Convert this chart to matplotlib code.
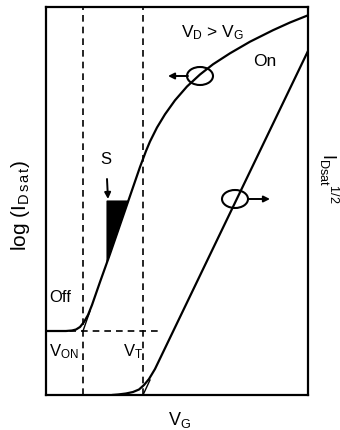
import matplotlib
matplotlib.use("Agg")
import matplotlib.pyplot as plt
from matplotlib.patches import Ellipse, Polygon

plt.rcParams['font.family'] = ['Liberation Sans', 'DejaVu Sans']
plt.rcParams['mathtext.fontset'] = 'custom'
plt.rcParams['mathtext.rm'] = 'Liberation Sans'
plt.rcParams['mathtext.it'] = 'Liberation Sans:italic'

# Schematic transfer curve, arbitrary units (V_G on x, current on y)
log_vg = [0, 20, 26, 30, 34, 38, 42, 46, 54, 64, 74, 84, 94, 97, 100, 104,
          111, 119, 129, 141, 154, 167, 184, 204, 227, 244, 262]
log_id = [64, 64, 64.5, 65.5, 68, 73, 80, 90, 113, 141, 170, 199, 228, 236,
          244, 253.5, 267.5, 280.7, 294.7, 308.5, 320.5, 330.7, 341.7, 353.3,
          364.8, 372.5, 379.7]

sqrt_vg = [66, 72, 80, 87, 93, 98, 103, 109, 262]
sqrt_id = [0, 0.5, 1.5, 3, 5.5, 10, 16, 26, 344]

v_on = 37
v_t = 97
i_off = 64

# extrapolated straight segments at the two onsets
on_tangent_vg = [37, 44]
on_tangent_id = [64, 84]
t_tangent_vg = [97, 104]
t_tangent_id = [0, 15]

# subthreshold-swing triangle
s_tri_vg = [61, 82, 61]
s_tri_id = [133, 194, 194]

fig = plt.figure(figsize=(3.4, 4.31), dpi=100)
ax = fig.add_axes([46 / 340, 35 / 431, 262 / 340, 388 / 431])
ax.set_xlim(0, 262)
ax.set_ylim(0, 388)
ax.set_xticks([])
ax.set_yticks([])
for sp in ax.spines.values():
    sp.set_linewidth(1.6)

dash = (0, (4, 3))
ax.axvline(v_on, color='black', lw=1.2, ls=dash)
ax.axvline(v_t, color='black', lw=1.2, ls=dash)
ax.plot([0, 112], [i_off, i_off], color='black', lw=1.2, ls=dash)

ax.plot(log_vg, log_id, color='black', lw=1.6, solid_capstyle='round',
        solid_joinstyle='round')
ax.plot(sqrt_vg, sqrt_id, color='black', lw=1.6, solid_capstyle='round',
        solid_joinstyle='round')
ax.plot(on_tangent_vg, on_tangent_id, color='black', lw=1.0)
ax.plot(t_tangent_vg, t_tangent_id, color='black', lw=1.0)

ax.add_patch(Polygon(list(zip(s_tri_vg, s_tri_id)), closed=True,
                     facecolor='black', edgecolor='black', lw=0.8))

# axis markers: ellipses with arrows pointing to the relevant axis
ax.add_patch(Ellipse((154, 319), 26, 18, fill=False,
                     edgecolor='black', lw=1.5))
ax.annotate('', xy=(122, 319), xytext=(142, 319),
            arrowprops=dict(arrowstyle='-|>', color='black', lw=1.4,
                            mutation_scale=9, shrinkA=0, shrinkB=0))
ax.add_patch(Ellipse((189, 196), 26, 18, fill=False,
                     edgecolor='black', lw=1.5))
ax.annotate('', xy=(224, 196), xytext=(202, 196),
            arrowprops=dict(arrowstyle='-|>', color='black', lw=1.4,
                            mutation_scale=9, shrinkA=0, shrinkB=0))

ax.annotate('S', xy=(62, 196), xytext=(60, 236), ha='center', va='center',
            fontsize=12,
            arrowprops=dict(arrowstyle='-|>', color='black', lw=1.4,
                            mutation_scale=9, shrinkA=7, shrinkB=0))

ax.text(167, 363, r'V$_\mathregular{D}$ > V$_\mathregular{G}$',
        ha='center', va='center', fontsize=12.5)
ax.text(219, 334, 'On', ha='center', va='center', fontsize=12.5)
ax.text(3, 99, 'Off', ha='left', va='center', fontsize=12)
ax.text(3, 44, r'$\mathregular{V_{ON}}$', ha='left', va='center', fontsize=12)
ax.text(77, 44, r'$\mathregular{V_T}$', ha='left', va='center', fontsize=12)

fig.text(0.06, 0.524, r'log (I$_\mathregular{D\,s\,a\,t}$)', rotation=90,
         ha='center', va='center', fontsize=15)
fig.text(0.529, 0.026, r'$\mathregular{V_G}$', ha='center', va='center',
         fontsize=13)
fig.text(317 / 340, (431 - 153) / 431, r'$\mathregular{I_{Dsat}{}^{1/2}}$',
         rotation=270, ha='left', va='top', fontsize=13)

fig.savefig('out.png', dpi=100, facecolor='white')
